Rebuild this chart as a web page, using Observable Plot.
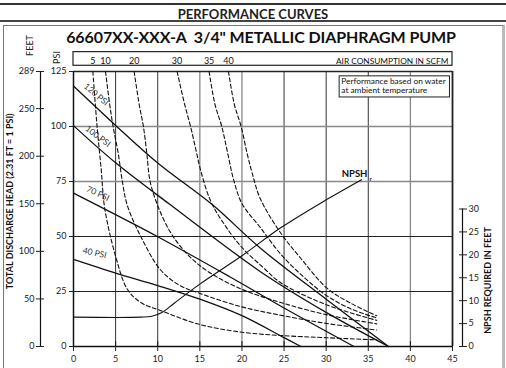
<!DOCTYPE html>
<html><head><meta charset="utf-8">
<script src="https://cdn.jsdelivr.net/npm/d3@7"></script>
<script src="https://cdn.jsdelivr.net/npm/@observablehq/plot@0.6"></script>
<style>
body{margin:0;background:#fff;font-family:Lato,"Open Sans",sans-serif;}
#wrap{position:relative;width:506px;height:368px;overflow:hidden;}
.abs{position:absolute;}
</style></head>
<body><div id="wrap">
<div class="abs" style="left:0;top:3px;width:506px;height:0;border-top:2px solid #333"></div>
<div class="abs" style="left:0;top:6px;width:506px;text-align:center;font-weight:700;font-size:13px;color:#222">PERFORMANCE CURVES</div>
<div class="abs" style="left:0;top:20px;width:506px;height:0;border-top:2px solid #444"></div>
<div class="abs" style="left:3px;top:25px;width:498px;height:360px;border:1.5px solid #777;border-right:3px solid #bbb"></div>
<div class="abs" style="left:8px;top:27px;width:506px;text-align:center;font-weight:700;font-size:16px;color:#111;letter-spacing:-0.1px">66607XX-XXX-A&nbsp; 3/4" METALLIC DIAPHRAGM PUMP</div>
</div>
<script>
// ---- data ----
const flowTicks = [0,5,10,15,20,25,30,35,40,45];
const psiTicks = [0,25,50,75,100,125];
const feetTicks = [0,50,100,150,200,250,289];
const npshTicks = [0,5,10,15,20,25,30];
const FT_PER_PSI = 289/125;
const NPSH_K = 125/60;

// pressure lines: [flow gpm, discharge psi]
const p120 = [[0,118.4],[5,100.5],[10,83.4],[16.5,64.4],[22.2,44.7],[30,21.5],[37.4,0]];
const p100 = [[0,100.4],[5,83.5],[11.5,64.4],[22.2,34],[30,15.5],[37.4,0]];
const p70  = [[0,69.7],[10,49.9],[18.6,31.6],[25,17.5],[33.3,0]];
const p40  = [[0,39.6],[5,33.4],[10,27.7],[15,21.5],[20,14],[25,4],[27,0]];
const psiLabels = ["120 PSI","100 PSI","70 PSI","40 PSI"];

// air consumption curves (SCFM): [flow, psi]
const a5  = [[2.3,125],[2.8,100],[3.3,80],[3.7,63],[5,41],[6.4,26],[8,20],[10.3,16.4],[15,10],[20,6.5],[24.6,5],[30,4],[36,3]];
const a10 = [[3.8,125],[4.3,110],[4.7,100],[5.3,88],[5.8,75],[6.4,64],[8.2,48.4],[10.3,35],[12.5,28],[15.1,24],[20,18],[24.6,14.2],[30,10.5],[36,7.5]];
const a20 = [[7.2,125],[7.8,110],[8.3,100],[8.7,88],[9.1,75],[10,64],[11.5,52],[13.5,42],[16,34],[20,26],[24.6,20],[30,14.5],[36,10.3]];
const a30 = [[12.3,125],[13.2,110],[13.9,100],[14.5,90],[15.1,80],[16.3,66],[18,55],[20,45],[22.5,36],[24.6,29],[30,19],[36,11.9]];
const a35 = [[16.1,125],[16.8,110],[17.6,100],[18.3,88],[19,76],[20,65],[22.2,54],[24.6,42],[27.5,31],[30.1,23],[33,17],[36,13]];
const a40 = [[18.4,125],[19.1,110],[19.9,100],[20.6,88],[21.2,79],[22.2,67],[24.6,51.6],[27,40],[30.1,26.5],[33,19.5],[36,14]];
const scfmLabels = ["5","10","20","30","35","40"];

// NPSH required: [flow, feet]
const npsh = [[0,6.4],[8,6.4],[9.3,6.6],[10.5,7.4],[12,9.5],[15,13.6],[20,19.8],[24.6,25.9],[30,32],[34.2,36.4]];

// ---- build tables ----
const solid = [p120,p100,p70,p40].flatMap((s,i)=>s.map(([x,y])=>({x,y,k:psiLabels[i]})));
const dashed = [a5,a10,a20,a30,a35,a40].flatMap((s,i)=>s.map(([x,y])=>({x,y,k:scfmLabels[i]})));
const scfmTop = [a5,a10,a20,a30,a35,a40].map((s,i)=>({x:s[0][0],t:scfmLabels[i]}));
const npshRows = npsh.map(([x,f])=>({x,y:f*NPSH_K}));
const lbl = [
  {t:"120 PSI",x:2.7,y:114.5,r:40},
  {t:"100 PSI",x:2.9,y:95.5,r:37},
  {t:"70 PSI",x:2.9,y:69.5,r:25},
  {t:"40 PSI",x:2.5,y:42.5,r:13}
];

const font = "Lato, 'Open Sans', sans-serif";
const chart = Plot.plot({
  width:506, height:368,
  marginLeft:73, marginRight:54, marginTop:71, marginBottom:22,
  x:{domain:[0,45]}, y:{domain:[0,125]},
  style:{fontFamily:font, fontSize:"9px", background:"transparent", color:"#222"},
  marks:[
    Plot.ruleX([5,10,25,30,35],{stroke:"#333",strokeWidth:1}),
    Plot.ruleX([15,20,40],{stroke:"#888",strokeWidth:1.3}),
    Plot.ruleY([25,50],{stroke:"#222",strokeWidth:1}),
    Plot.ruleY([75,100],{stroke:"#888",strokeWidth:1.3}),
    Plot.ruleX([0],{stroke:"#111",strokeWidth:1.5}),
    Plot.ruleX([45],{stroke:"#222",strokeWidth:1.8}),
    Plot.ruleY([0],{stroke:"#111",strokeWidth:1.5}),
    Plot.ruleY([125],{stroke:"#222",strokeWidth:1.5}),
    // air consumption header box
    Plot.rect([0],{x1:0,x2:45,y1:127.6,y2:133.8,stroke:"#222",strokeWidth:1.2,fill:"white"}),
    Plot.text(scfmTop,{x:"x",y:129.8,text:"t",fontSize:9,fill:"#111"}),
    Plot.text(["AIR CONSUMPTION IN SCFM"],{x:45,y:129.8,dx:-4,textAnchor:"end",fontSize:8.3,fill:"#111"}),
    // note box
    Plot.rect([0],{x1:31.6,x2:44.7,y1:113.2,y2:122.8,stroke:"#222",strokeWidth:1,fill:"white"}),
    Plot.text(["Performance based on water\nat ambient temperature"],{x:31.8,y:122.3,textAnchor:"start",lineAnchor:"top",fontSize:8.3,fill:"#111",lineHeight:1.1}),
    // curves
    Plot.line(dashed,{x:"x",y:"y",z:"k",stroke:"#111",strokeWidth:1.1,strokeDasharray:"4,2.5",curve:"catmull-rom"}),
    Plot.line(solid,{x:"x",y:"y",z:"k",stroke:"#111",strokeWidth:1.3,curve:"catmull-rom"}),
    Plot.line(npshRows,{x:"x",y:"y",stroke:"#111",strokeWidth:1.1,curve:"catmull-rom"}),
    Plot.text(lbl,{x:"x",y:"y",text:"t",rotate:"r",fontSize:8.5,fill:"#333"}),
    Plot.text(["NPSH"],{x:34.9,y:78.5,textAnchor:"end",fontWeight:"bold",fontSize:9.5,fill:"#111"}),
    Plot.text(["r"],{x:34.9,y:77,dx:2,dy:2,textAnchor:"start",fontWeight:"bold",fontSize:6,fill:"#111"}),
    // x axis
    Plot.axisX(flowTicks,{anchor:"bottom",label:null,tickSize:5,tickPadding:4,fontSize:9}),
    Plot.ruleX(flowTicks,{y1:0,y2:2.2,stroke:"#111"}),
    // psi axis
    Plot.axisY(psiTicks,{anchor:"left",label:null,tickSize:4,tickPadding:3,fontSize:9}),
    Plot.text(["PSI"],{x:0,y:125,dx:-16,dy:-14,rotate:-90,fontSize:9,fill:"#222"}),
    // feet axis
    Plot.ruleX([0],{y1:0,y2:125,dx:-33,stroke:"#111",strokeWidth:1.2}),
    Plot.axisY(feetTicks.map(f=>f/FT_PER_PSI),{anchor:"left",label:null,dx:-29,tickSize:8,tickPadding:2,fontSize:9,tickFormat:d=>Math.round(d*FT_PER_PSI)}),
    Plot.text(["FEET"],{x:0,y:125,dx:-43,dy:-26,rotate:-90,fontSize:9,fill:"#222"}),
    Plot.text(["TOTAL DISCHARGE HEAD (2.31 FT = 1 PSI)"],{x:0,y:66,dx:-63,rotate:-90,fontSize:9,fontWeight:"bold",fill:"#111"}),
    // npsh axis
    Plot.ruleX([45],{y1:0,y2:30*NPSH_K,dx:10,stroke:"#111",strokeWidth:1.2}),
    Plot.axisY(npshTicks.map(n=>n*NPSH_K),{anchor:"right",label:null,dx:6,tickSize:8,tickPadding:2,fontSize:9,tickFormat:d=>Math.round(d/NPSH_K)}),
    Plot.text(["NPSH REQUIRED IN FEET"],{x:45,y:30,dx:36,rotate:-90,fontSize:9,fontWeight:"bold",fill:"#111"})
  ]
});
chart.style.position="absolute"; chart.style.left="0"; chart.style.top="0";
document.getElementById("wrap").appendChild(chart);
</script>
</body></html>
